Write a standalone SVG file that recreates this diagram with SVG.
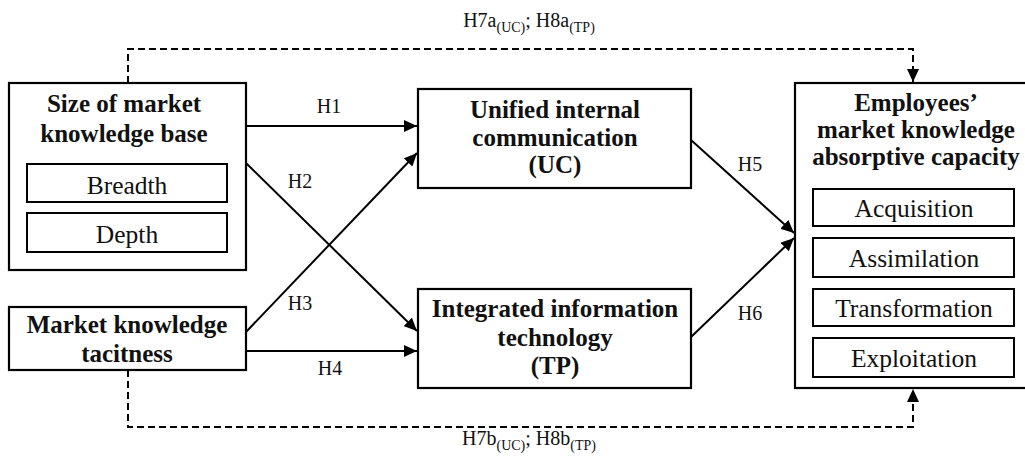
<svg xmlns="http://www.w3.org/2000/svg" width="1025" height="464" viewBox="0 0 1025 464" font-family="'Liberation Serif', 'Times New Roman', serif">
<style>
.box{fill:#fff;stroke:#000;stroke-width:2.2}
.sub{fill:#fff;stroke:#000;stroke-width:2}
text{font-family:'Liberation Serif','Times New Roman',serif;fill:#111;text-anchor:middle}
.b{font-weight:bold;font-size:25px}
.r{font-size:25.5px;font-weight:normal}
.h{font-size:20px}
.s{font-size:14px}
.ln{stroke:#000;stroke-width:2;fill:none}
.dash{stroke:#000;stroke-width:2;fill:none;stroke-dasharray:7 4}
</style>
<defs>
<marker id="ah" markerUnits="userSpaceOnUse" markerWidth="14" markerHeight="12" refX="13" refY="6" orient="auto">
<path d="M0,0 L13,6 L0,12 Z" fill="#000"/>
</marker>
</defs>
<rect width="1025" height="464" fill="#fff"/>
<g id="connectors">
<line class="ln" x1="246" y1="126" x2="417" y2="126" marker-end="url(#ah)"/>
<line class="ln" x1="246" y1="163" x2="417" y2="331" marker-end="url(#ah)"/>
<line class="ln" x1="246" y1="332" x2="417" y2="153" marker-end="url(#ah)"/>
<line class="ln" x1="246" y1="351" x2="417" y2="351" marker-end="url(#ah)"/>
<line class="ln" x1="691" y1="140" x2="794" y2="233" marker-end="url(#ah)"/>
<line class="ln" x1="691" y1="337" x2="794" y2="238" marker-end="url(#ah)"/>
<path class="dash" d="M128,83 V49 H913 V82" marker-end="url(#ah)"/>
<path class="dash" d="M128,370 V427 H913 V389" marker-end="url(#ah)"/>
<text class="h" x="329" y="113">H1</text>
<text class="h" x="300" y="188">H2</text>
<text class="h" x="300" y="310">H3</text>
<text class="h" x="330" y="375">H4</text>
<text class="h" x="750" y="171">H5</text>
<text class="h" x="750" y="320">H6</text>
<text class="h" x="529" y="27">H7a<tspan class="s" dy="5">(UC)</tspan><tspan dy="-5">; H8a</tspan><tspan class="s" dy="5">(TP)</tspan></text>
<text class="h" x="529" y="445">H7b<tspan class="s" dy="5">(UC)</tspan><tspan dy="-5">; H8b</tspan><tspan class="s" dy="5">(TP)</tspan></text>
</g>
<g id="size">
<rect class="box" x="9" y="83" width="237" height="187"/>
<text class="b" x="124" y="112">Size of market</text>
<text class="b" x="124" y="142">knowledge base</text>
<rect class="sub" x="27" y="164" width="200" height="38"/>
<text class="r" x="127" y="194">Breadth</text>
<rect class="sub" x="27" y="213" width="200" height="39"/>
<text class="r" x="127" y="243">Depth</text>
</g>
<g id="tacitness">
<rect class="box" x="9" y="307" width="237" height="63"/>
<text class="b" x="127" y="333">Market knowledge</text>
<text class="b" x="127" y="362">tacitness</text>
</g>
<g id="uc">
<rect class="box" x="418" y="89" width="273" height="99"/>
<text class="b" x="555" y="118">Unified internal</text>
<text class="b" x="555" y="146">communication</text>
<text class="b" x="555" y="173">(UC)</text>
</g>
<g id="tp">
<rect class="box" x="418" y="289" width="273" height="99"/>
<text class="b" x="555" y="317">Integrated information</text>
<text class="b" x="555" y="346">technology</text>
<text class="b" x="555" y="374">(TP)</text>
</g>
<g id="absorptive">
<rect class="box" x="795" y="83" width="240" height="305"/>
<text class="b" x="916" y="111">Employees’</text>
<text class="b" x="916" y="138">market knowledge</text>
<text class="b" x="916" y="165">absorptive capacity</text>
<rect class="sub" x="813" y="189" width="201" height="37"/>
<text class="r" x="914" y="217">Acquisition</text>
<rect class="sub" x="813" y="238" width="201" height="39"/>
<text class="r" x="914" y="267">Assimilation</text>
<rect class="sub" x="813" y="289" width="201" height="37"/>
<text class="r" x="914" y="317">Transformation</text>
<rect class="sub" x="813" y="338" width="201" height="39"/>
<text class="r" x="914" y="367">Exploitation</text>
</g>
</svg>
